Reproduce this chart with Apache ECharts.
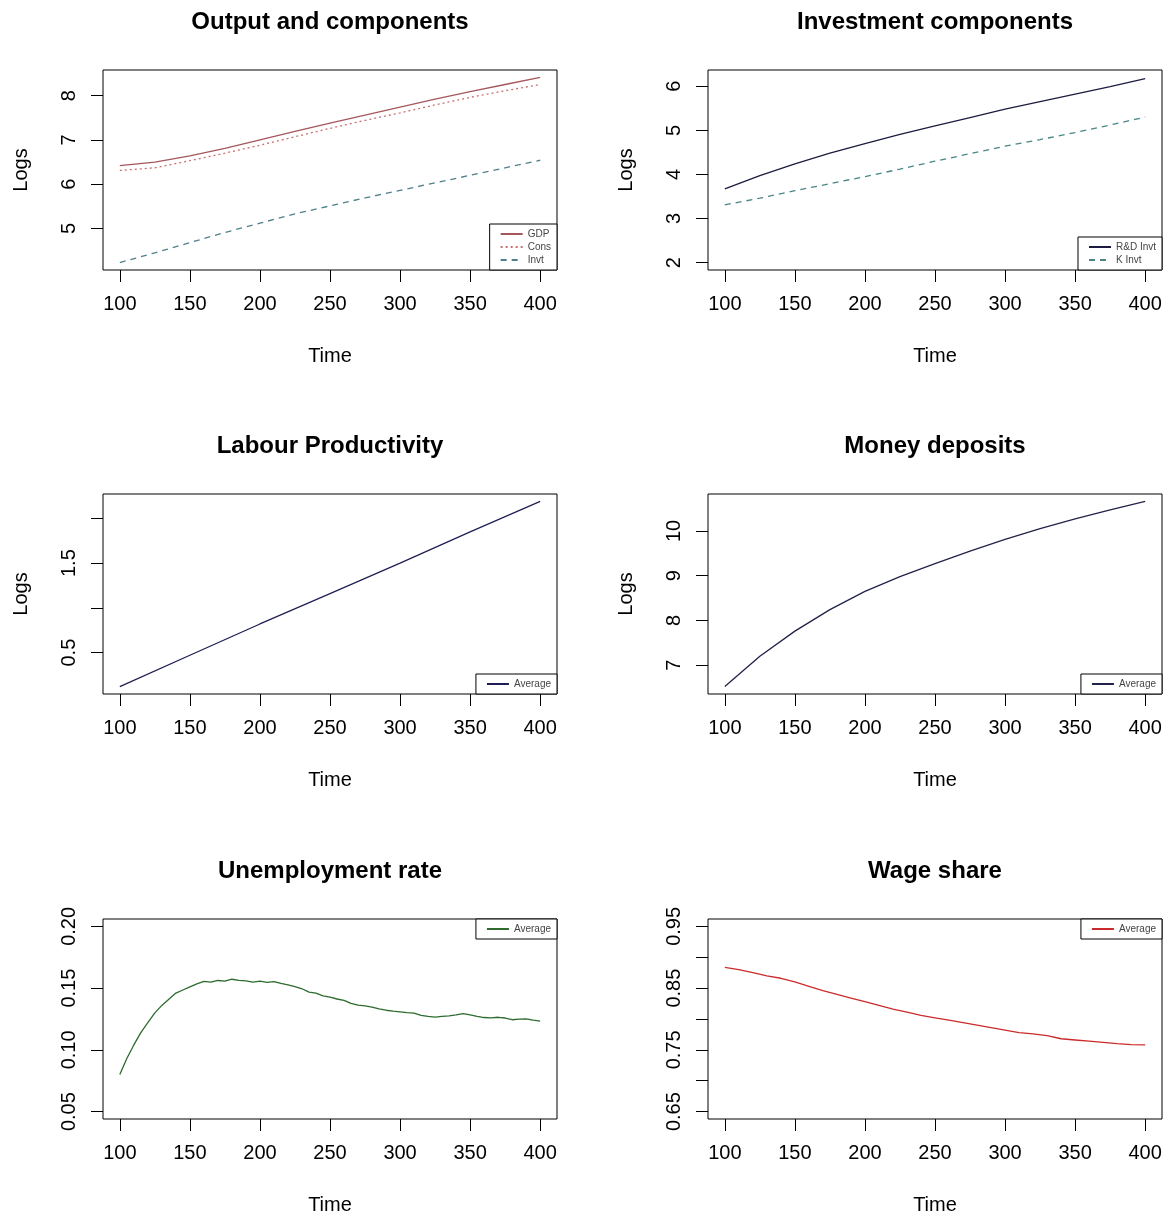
<!DOCTYPE html>
<html>
<head>
<meta charset="utf-8">
<script src="https://cdn.jsdelivr.net/npm/echarts@6/dist/echarts.min.js"></script>
<style>
  html, body { margin: 0; padding: 0; background: #fff; }
  #main { width: 1168px; height: 1218px; }
</style>
</head>
<body>
<div id="main"></div>
<script>
// time grids
const timeCoarse = [100, 125, 150, 175, 200, 225, 250, 275, 300, 325, 350, 375, 400];
const timeLP = [100, 150, 200, 250, 300, 350, 400];
const timeFine = [100, 105, 110, 115, 120, 125, 130, 135, 140, 145, 150, 155, 160, 165, 170, 175, 180,
    185, 190, 195, 200, 205, 210, 215, 220, 225, 230, 235, 240, 245, 250, 255, 260, 265, 270, 275, 280,
    285, 290, 295, 300, 305, 310, 315, 320, 325, 330, 335, 340, 345, 350, 355, 360, 365, 370, 375, 380,
    385, 390, 395, 400];
const timeWage = [100, 110, 120, 130, 140, 150, 160, 170, 180, 190, 200, 210, 220, 230, 240, 250, 260,
    270, 280, 290, 300, 310, 320, 330, 340, 350, 360, 370, 380, 390, 400];

// output and components (logs)
const gdp = [6.42, 6.50, 6.64, 6.81, 7.00, 7.19, 7.38, 7.56, 7.74, 7.92, 8.09, 8.25, 8.41];
const cons = [6.31, 6.37, 6.53, 6.70, 6.88, 7.07, 7.26, 7.44, 7.61, 7.79, 7.96, 8.11, 8.25];
const invt = [4.23, 4.45, 4.68, 4.91, 5.12, 5.33, 5.51, 5.69, 5.86, 6.03, 6.20, 6.37, 6.54];

// investment components (logs)
const rdInvt = [3.67, 3.97, 4.24, 4.48, 4.70, 4.91, 5.10, 5.29, 5.48, 5.65, 5.82, 5.99, 6.17];
const kInvt = [3.31, 3.46, 3.63, 3.79, 3.95, 4.12, 4.30, 4.47, 4.64, 4.79, 4.95, 5.12, 5.30];

// labour productivity (logs)
const productivity = [0.12, 0.47, 0.82, 1.16, 1.50, 1.85, 2.19];

// money deposits (logs)
const deposits = [6.52, 7.20, 7.76, 8.24, 8.65, 8.98, 9.27, 9.55, 9.81, 10.05, 10.27, 10.47, 10.66];

// unemployment rate
const unemployment = [0.080, 0.093, 0.104, 0.114, 0.122, 0.130, 0.136, 0.141, 0.146, 0.1485, 0.151,
    0.1535, 0.1555, 0.1548, 0.1562, 0.1556, 0.1572, 0.1563, 0.1558, 0.1549, 0.1556, 0.1547, 0.1553, 0.1538,
    0.1527, 0.1512, 0.1495, 0.1468, 0.1459, 0.1438, 0.1428, 0.1412, 0.1401, 0.1376, 0.1362, 0.1357, 0.1346,
    0.1332, 0.1321, 0.1313, 0.1307, 0.1301, 0.1298, 0.1279, 0.1271, 0.1266, 0.1272, 0.1275, 0.1283, 0.1294,
    0.1284, 0.1272, 0.1262, 0.1259, 0.1264, 0.1258, 0.1244, 0.1249, 0.1251, 0.1241, 0.1232];

// wage share
const wageShare = [0.8835, 0.880, 0.875, 0.870, 0.866, 0.860, 0.853, 0.846, 0.840, 0.834, 0.828, 0.822,
    0.816, 0.811, 0.806, 0.802, 0.798, 0.794, 0.790, 0.786, 0.782, 0.778, 0.776, 0.773, 0.768, 0.766,
    0.764, 0.762, 0.760, 0.7585, 0.758];

// tick values
const xTicks = [100, 150, 200, 250, 300, 350, 400];
const ticksOutput = [5, 6, 7, 8];
const ticksInvest = [2, 3, 4, 5, 6];
const ticksProd = [0.5, 1.0, 1.5, 2.0];
const labelsProd = [0.5, 1.5];
const ticksMoney = [7, 8, 9, 10];
const ticksUnemp = [0.05, 0.10, 0.15, 0.20];
const ticksWage = [0.65, 0.70, 0.75, 0.80, 0.85, 0.90, 0.95];
const labelsWage = [0.65, 0.75, 0.85, 0.95];

const FONT = 'Liberation Sans, Arial, sans-serif';

// R-style 4% expansion of a range
function expand(lo, hi) {
    const pad = (hi - lo) * 0.04;
    return [lo - pad, hi + pad];
}
function rangeOf(...arrs) {
    const all = [].concat(...arrs);
    return expand(Math.min(...all), Math.max(...all));
}
function pairs(xs, ys) {
    return xs.map((x, i) => [x, ys[i]]);
}

const lefts = [103, 708];
const tops = [70, 494, 919];
const W = 454, H = 200;

const panels = [
    {title: 'Output and components', yName: 'Logs', range: rangeOf(gdp, cons, invt), ticks: ticksOutput, labels: ticksOutput, digits: 0},
    {title: 'Investment components', yName: 'Logs', range: expand(2, 6.2), ticks: ticksInvest, labels: ticksInvest, digits: 0},
    {title: 'Labour Productivity', yName: 'Logs', range: rangeOf(productivity), ticks: ticksProd, labels: labelsProd, digits: 1},
    {title: 'Money deposits', yName: 'Logs', range: rangeOf(deposits), ticks: ticksMoney, labels: ticksMoney, digits: 0},
    {title: 'Unemployment rate', yName: '', range: expand(0.05, 0.20), ticks: ticksUnemp, labels: ticksUnemp, digits: 2},
    {title: 'Wage share', yName: '', range: expand(0.65, 0.95), ticks: ticksWage, labels: labelsWage, digits: 2}
];

const grids = [], xAxes = [], yAxes = [], titles = [];
panels.forEach((p, i) => {
    const left = lefts[i % 2], top = tops[Math.floor(i / 2)];
    grids.push({left: left, top: top, width: W, height: H, show: true, borderColor: '#000', borderWidth: 1, backgroundColor: 'transparent'});
    titles.push({
        text: p.title, left: left + W / 2 - 5, top: top - 65, textAlign: 'center',
        textStyle: {fontFamily: FONT, fontSize: 24, fontWeight: 'bold', color: '#000'}
    });
    const xr = expand(100, 400);
    xAxes.push({
        type: 'value', gridIndex: i, min: xr[0], max: xr[1],
        name: 'Time', nameLocation: 'middle', nameGap: 76,
        nameTextStyle: {fontFamily: FONT, fontSize: 20, color: '#000'},
        axisLine: {show: false}, splitLine: {show: false},
        axisTick: {show: true, length: 12, customValues: xTicks, lineStyle: {color: '#000'}},
        axisLabel: {customValues: xTicks, margin: 24, fontFamily: FONT, fontSize: 20, color: '#000'}
    });
    yAxes.push({
        type: 'value', gridIndex: i, min: p.range[0], max: p.range[1],
        name: p.yName, nameLocation: 'middle', nameGap: 72, nameRotate: 90,
        nameTextStyle: {fontFamily: FONT, fontSize: 20, color: '#000'},
        axisLine: {show: false}, splitLine: {show: false},
        axisTick: {show: true, length: 12, customValues: p.ticks, lineStyle: {color: '#000'}},
        axisLabel: {
            customValues: p.labels, rotate: 90, margin: 24, fontFamily: FONT, fontSize: 20, color: '#000',
            formatter: v => Number(v).toFixed(p.digits)
        }
    });
});

function lineSeries(name, idx, xs, ys, color, type) {
    return {
        name: name, type: 'line', xAxisIndex: idx, yAxisIndex: idx,
        data: pairs(xs, ys), showSymbol: false, symbol: 'none', smooth: false,
        lineStyle: {color: color, width: 1.3, type: type || 'solid'},
        itemStyle: {color: color}
    };
}

const series = [
    lineSeries('GDP', 0, timeCoarse, gdp, '#a5575c'),
    lineSeries('Cons', 0, timeCoarse, cons, '#c9706f', [2, 3]),
    lineSeries('Invt', 0, timeCoarse, invt, '#4f7f8c', [6, 5]),
    lineSeries('R&D Invt', 1, timeCoarse, rdInvt, '#1c1c40'),
    lineSeries('K Invt', 1, timeCoarse, kInvt, '#4a8585', [6, 5]),
    lineSeries('avg_lp', 2, timeLP, productivity, '#1f1f55'),
    lineSeries('avg_md', 3, timeCoarse, deposits, '#22224a'),
    lineSeries('avg_un', 4, timeFine, unemployment, '#2e6b2e'),
    lineSeries('avg_ws', 5, timeWage, wageShare, '#cc2b2b')
];

function legendBox(names, right, y, anchor) {
    const lg = {
        data: names, orient: 'vertical', right: right,
        itemWidth: 22, itemHeight: 8, itemGap: 3, padding: [5, 6, 5, 10],
        borderColor: '#000', borderWidth: 1, backgroundColor: '#fff',
        selectedMode: false,
        itemStyle: {opacity: 0},
        formatter: n => n.startsWith('avg_') ? 'Average' : n,
        textStyle: {fontFamily: FONT, fontSize: 10, color: '#444'}
    };
    lg[anchor] = y;
    return lg;
}

const legends = [
    legendBox(['GDP', 'Cons', 'Invt'], 1168 - 557, 1218 - 270, 'bottom'),
    legendBox(['R&D Invt', 'K Invt'], 1168 - 1162, 1218 - 270, 'bottom'),
    legendBox(['avg_lp'], 1168 - 557, 1218 - 694, 'bottom'),
    legendBox(['avg_md'], 1168 - 1162, 1218 - 694, 'bottom'),
    legendBox(['avg_un'], 1168 - 557, 919, 'top'),
    legendBox(['avg_ws'], 1168 - 1162, 919, 'top')
];

const chart = echarts.init(document.getElementById('main'));
chart.setOption({
    animation: false,
    backgroundColor: '#fff',
    title: titles,
    grid: grids,
    xAxis: xAxes,
    yAxis: yAxes,
    legend: legends,
    series: series
});
</script>
</body>
</html>
